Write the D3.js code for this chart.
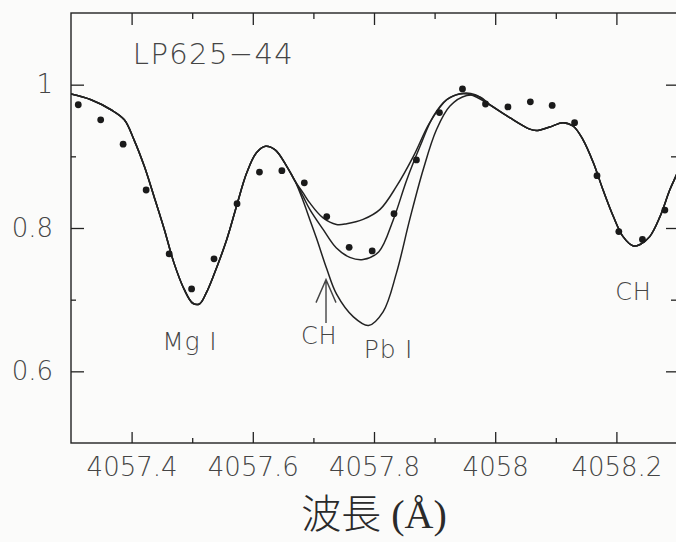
<!DOCTYPE html>
<html>
<head>
<meta charset="utf-8">
<script src="https://cdn.jsdelivr.net/npm/d3@7"></script>
<style>
  html, body { margin: 0; padding: 0; background: #fbfbfa; }
  svg { display: block; }
</style>
</head>
<body>
<svg id="chart" width="676" height="542"></svg>
<script>
// ---------- DATA ----------
const starName = "LP625\u221244";
const xAxisTitle = "波長 (Å)";

// observed spectrum (dots)
const obsWave = [4057.312, 4057.349, 4057.386, 4057.424, 4057.462, 4057.499, 4057.536,
  4057.574, 4057.611, 4057.648, 4057.685, 4057.722, 4057.759, 4057.797, 4057.833,
  4057.870, 4057.908, 4057.946, 4057.984, 4058.021, 4058.058, 4058.094, 4058.131,
  4058.168, 4058.204, 4058.243, 4058.280];
const obsFlux = [0.972, 0.951, 0.917, 0.853, 0.764, 0.715, 0.757,
  0.834, 0.878, 0.880, 0.863, 0.816, 0.773, 0.768, 0.820,
  0.895, 0.961, 0.994, 0.973, 0.969, 0.976, 0.971, 0.947,
  0.873, 0.795, 0.784, 0.825];

// synthetic spectra: shared blue part, three Pb abundances, shared red part
const synthSharedLeft = [
  [4057.300, 0.987], [4057.333, 0.979], [4057.366, 0.965], [4057.388, 0.951],
  [4057.404, 0.923], [4057.421, 0.886], [4057.437, 0.844], [4057.454, 0.798],
  [4057.470, 0.751], [4057.487, 0.714], [4057.501, 0.695], [4057.512, 0.694],
  [4057.523, 0.709], [4057.535, 0.733], [4057.557, 0.784], [4057.573, 0.830],
  [4057.590, 0.877], [4057.606, 0.905], [4057.621, 0.914], [4057.637, 0.909],
  [4057.656, 0.886], [4057.670, 0.865]
];
const synthPbLow = [
  [4057.683, 0.849], [4057.694, 0.835], [4057.716, 0.814], [4057.738, 0.805], [4057.755, 0.806],
  [4057.782, 0.812], [4057.810, 0.826], [4057.837, 0.858], [4057.865, 0.900],
  [4057.892, 0.947], [4057.920, 0.979], [4057.942, 0.987], [4057.960, 0.986]
];
const synthPbMid = [
  [4057.683, 0.844], [4057.694, 0.826], [4057.716, 0.798], [4057.738, 0.772], [4057.760, 0.759],
  [4057.782, 0.756], [4057.808, 0.767], [4057.832, 0.812], [4057.854, 0.867],
  [4057.876, 0.914], [4057.898, 0.956], [4057.920, 0.979], [4057.947, 0.988],
  [4057.967, 0.986]
];
const synthPbHigh = [
  [4057.683, 0.838], [4057.694, 0.812], [4057.705, 0.786], [4057.722, 0.743], [4057.738, 0.708],
  [4057.766, 0.676], [4057.791, 0.664], [4057.815, 0.683], [4057.837, 0.737],
  [4057.859, 0.812], [4057.881, 0.881], [4057.903, 0.937], [4057.925, 0.970],
  [4057.953, 0.985], [4057.975, 0.983]
];
const synthSharedRight = [
  [4057.991, 0.972], [4058.024, 0.954], [4058.057, 0.938], [4058.068, 0.936],
  [4058.090, 0.941], [4058.112, 0.947], [4058.129, 0.942], [4058.145, 0.923],
  [4058.162, 0.891], [4058.178, 0.853], [4058.195, 0.816], [4058.211, 0.788],
  [4058.228, 0.775], [4058.239, 0.777], [4058.255, 0.788], [4058.272, 0.816],
  [4058.288, 0.853], [4058.298, 0.872], [4058.310, 0.895]
];

// axes
const xMajorTicks = [4057.4, 4057.6, 4057.8, 4058.0, 4058.2];
const xMajorLabels = ["4057.4", "4057.6", "4057.8", "4058", "4058.2"];
const xMinorTicks = [4057.5, 4057.7, 4057.9, 4058.1];
const yMajorTicks = [0.6, 0.8, 1.0];
const yMajorLabels = ["0.6", "0.8", "1"];
const yMinorTicks = [0.7, 0.9];

// annotations (data coordinates)
const lineLabels = [
  { text: "Mg I", x: 4057.496, y: 0.630, size: 25 },
  { text: "CH", x: 4057.7097, y: 0.6386, size: 24 },
  { text: "Pb I", x: 4057.824, y: 0.619, size: 25 },
  { text: "CH", x: 4058.228, y: 0.700, size: 24 }
];
const chArrow = { x: 4057.7208, yBase: 0.6675, yTip: 0.728 };
const titlePos = { x: 4057.402, y: 1.029 };

// ---------- DRAW ----------
const margin = { left: 71, top: 13, right: 677, bottom: 443 };
const svg = d3.select("#chart");
const ink = "#222222";
const textInk = "#454545";
const fontSans = "'DejaVu Sans', 'Liberation Sans', sans-serif";

const x = d3.scaleLinear().domain([4057.3, 4058.3]).range([margin.left, margin.right]);
const y = d3.scaleLinear().domain([0.5, 1.1]).range([margin.bottom, margin.top]);

svg.append("defs").append("clipPath").attr("id", "plotclip")
  .append("rect").attr("x", margin.left).attr("y", margin.top)
  .attr("width", margin.right - margin.left).attr("height", margin.bottom - margin.top);

function styleAxis(g) {
  g.select(".domain").remove();
  g.selectAll(".tick line").attr("stroke", ink).attr("stroke-width", 1.3);
  g.selectAll(".tick text").attr("fill", textInk).attr("font-family", fontSans)
    .attr("font-weight", 200).attr("font-size", 26);
}

// bottom
svg.append("g").attr("transform", `translate(0,${margin.bottom})`)
  .call(d3.axisBottom(x).tickValues(xMajorTicks).tickSize(-11).tickPadding(15)
    .tickFormat((d, i) => xMajorLabels[i]))
  .call(styleAxis);
svg.append("g").attr("transform", `translate(0,${margin.bottom})`)
  .call(d3.axisBottom(x).tickValues(xMinorTicks).tickSize(-5).tickFormat(""))
  .call(styleAxis);
// top
svg.append("g").attr("transform", `translate(0,${margin.top})`)
  .call(d3.axisTop(x).tickValues(xMajorTicks).tickSize(-12).tickFormat(""))
  .call(styleAxis);
svg.append("g").attr("transform", `translate(0,${margin.top})`)
  .call(d3.axisTop(x).tickValues(xMinorTicks).tickSize(-6).tickFormat(""))
  .call(styleAxis);
// left
svg.append("g").attr("transform", `translate(${margin.left},0)`)
  .call(d3.axisLeft(y).tickValues(yMajorTicks).tickSize(-13).tickPadding(18)
    .tickFormat((d, i) => yMajorLabels[i]))
  .call(styleAxis);
svg.append("g").attr("transform", `translate(${margin.left},0)`)
  .call(d3.axisLeft(y).tickValues(yMinorTicks).tickSize(-5).tickFormat(""))
  .call(styleAxis);
// right
svg.append("g").attr("transform", `translate(${margin.right},0)`)
  .call(d3.axisRight(y).tickValues(yMajorTicks).tickSize(-11).tickFormat(""))
  .call(styleAxis);
svg.append("g").attr("transform", `translate(${margin.right},0)`)
  .call(d3.axisRight(y).tickValues(yMinorTicks).tickSize(-6).tickFormat(""))
  .call(styleAxis);

// frame
svg.append("rect")
  .attr("x", margin.left).attr("y", margin.top)
  .attr("width", margin.right - margin.left).attr("height", margin.bottom - margin.top)
  .attr("fill", "none").attr("stroke", ink).attr("stroke-width", 1.4);

// synthetic curves
const plot = svg.append("g").attr("clip-path", "url(#plotclip)");
const synthCurves = [synthPbLow, synthPbMid, synthPbHigh]
  .map(mid => synthSharedLeft.concat(mid, synthSharedRight));
const line = d3.line().x(d => x(d[0])).y(d => y(d[1])).curve(d3.curveCatmullRom.alpha(0.5));
plot.selectAll("path.synth").data(synthCurves).join("path")
  .attr("class", "synth")
  .attr("d", line)
  .attr("fill", "none").attr("stroke", ink).attr("stroke-width", 1.5)
  .attr("stroke-linejoin", "round");

// observed dots
plot.selectAll("circle.obs").data(obsWave).join("circle")
  .attr("class", "obs")
  .attr("cx", d => x(d)).attr("cy", (d, i) => y(obsFlux[i]))
  .attr("r", 3.4).attr("fill", "#1a1a1a");

// star name
svg.append("text")
  .attr("x", x(titlePos.x)).attr("y", y(titlePos.y))
  .attr("font-family", fontSans).attr("font-weight", 200).attr("font-size", 29)
  .attr("fill", textInk)
  .attr("textLength", 160).attr("lengthAdjust", "spacing")
  .text(starName);

// line labels
svg.selectAll("text.linelab").data(lineLabels).join("text")
  .attr("class", "linelab")
  .attr("x", d => x(d.x)).attr("y", d => y(d.y))
  .attr("text-anchor", "middle")
  .attr("font-family", fontSans).attr("font-weight", 200)
  .attr("font-size", d => d.size).attr("letter-spacing", 0.8)
  .attr("fill", textInk)
  .text(d => d.text);

// CH arrow
const ax = x(chArrow.x), ayTip = y(chArrow.yTip), ayBase = y(chArrow.yBase);
svg.append("path")
  .attr("d", `M${ax},${ayBase}L${ax},${ayTip}M${ax - 10},${ayTip + 23}L${ax},${ayTip}L${ax + 10},${ayTip + 23}`)
  .attr("fill", "none").attr("stroke", textInk).attr("stroke-width", 1.4);

// x axis title
svg.append("text")
  .attr("x", (margin.left + margin.right) / 2).attr("y", 528)
  .attr("text-anchor", "middle")
  .attr("font-family", "'Liberation Serif', 'DejaVu Serif', 'Noto Sans CJK JP', serif")
  .attr("font-weight", 300)
  .attr("font-size", 40).attr("fill", "#2a2a2a")
  .text(xAxisTitle);
</script>
</body>
</html>
